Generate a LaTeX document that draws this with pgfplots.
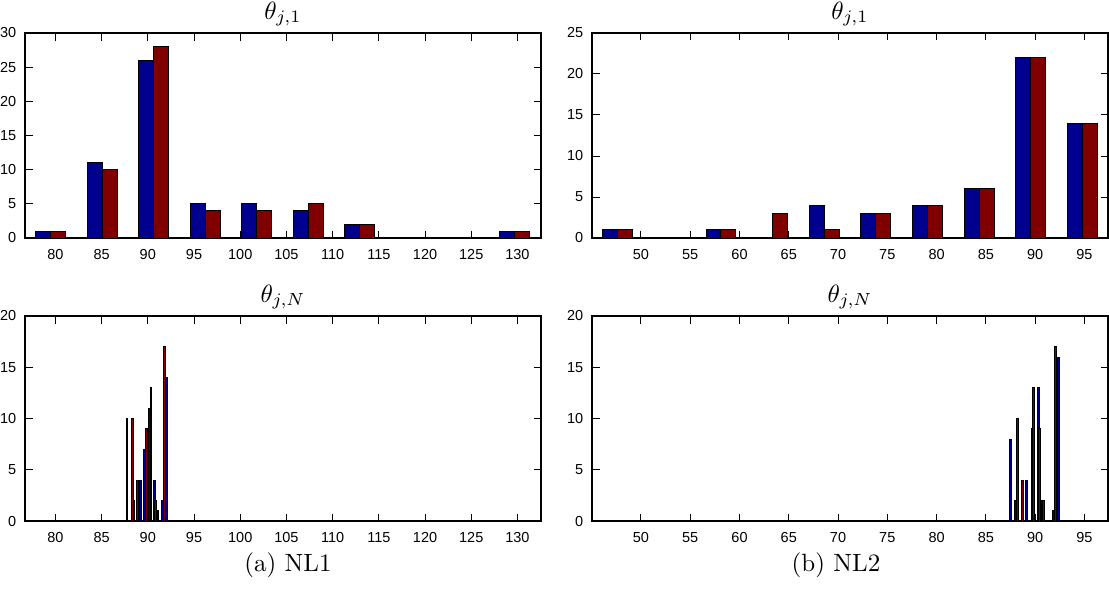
\documentclass[border=0pt]{standalone}
\usepackage{fontspec}
\newfontfamily\tickfont{Liberation Sans}
\usepackage{pgfplots}
\pgfplotsset{compat=1.18}

\definecolor{barblue}{rgb}{0,0,0.56}
\definecolor{barred}{rgb}{0.5,0,0}

\pgfplotsset{
  matfig/.style={
    scale only axis, width=206.4pt, height=82pt,
    anchor=south west,
    axis line style={line width=0.5pt},
    tick align=inside, major tick length=3pt,
    tick style={line width=0.4pt, black},
    tick label style={font=\tickfont\fontsize{5.8}{6.5}\selectfont,
      /pgf/number format/assume math mode=true},
    xticklabel style={yshift=-1pt},
    ymin=0,
    title style={at={(0.5,1)}, anchor=south, yshift=-6.8pt, font=\normalsize},
    every axis plot/.append style={ybar, bar shift=0pt, draw=black, line width=0.4pt},
  },
  leftx/.style={xmin=76.71, xmax=132.55, xtick={80,85,...,130}},
  rightx/.style={xmin=45.03, xmax=97.4, xtick={50,55,...,95}},
}

\begin{document}
\begin{tikzpicture}
\useasboundingbox (0,0) rectangle (443.6pt,236pt);

% (a) NL1, first iteration
\begin{axis}[matfig, leftx, at={(10pt,140.8pt)}, ymax=30, ytick={0,5,...,30},
  title={$\theta_{j,1}$}]
\addplot[fill=barblue, bar width=1.625] coordinates {
  (78.69,1) (84.26,11) (89.83,26) (95.40,5) (100.97,5)
  (106.54,4) (112.11,2) (117.68,0) (123.25,0) (128.82,1)};
\addplot[fill=barred, bar width=1.625] coordinates {
  (80.31,1) (85.88,10) (91.45,28) (97.02,4) (102.59,4)
  (108.16,5) (113.73,2) (119.30,0) (124.87,0) (130.44,1)};
\end{axis}

% (b) NL2, first iteration
\begin{axis}[matfig, rightx, at={(236.8pt,140.8pt)}, ymax=25, ytick={0,5,...,25},
  title={$\theta_{j,1}$}]
\addplot[fill=barblue, bar width=1.52] coordinates {
  (46.89,1) (52.13,0) (57.36,1) (62.60,0) (67.84,4)
  (73.08,3) (78.31,4) (83.55,6) (88.79,22) (94.02,14)};
\addplot[fill=barred, bar width=1.52] coordinates {
  (48.41,1) (53.65,0) (58.88,1) (64.12,3) (69.36,1)
  (74.60,3) (79.83,4) (85.07,6) (90.31,22) (95.54,14)};
\end{axis}

% (a) NL1, last iteration
\begin{axis}[matfig, leftx, at={(10pt,27.6pt)}, ymax=20, ytick={0,5,...,20},
  title={$\theta_{j,N}$}]
\addplot[fill=barblue, bar width=0.2] coordinates {
  (87.75,10) (88.50,2) (89.20,4) (89.65,7) (90.15,11)
  (90.70,4) (91.10,1) (91.60,2) (92.05,14)};
\addplot[fill=barred, bar width=0.2] coordinates {
  (88.30,10) (88.85,4) (89.85,9) (90.35,13) (90.85,2) (91.80,17)};
\end{axis}

% (b) NL2, last iteration
\begin{axis}[matfig, rightx, at={(236.8pt,27.6pt)}, ymax=20, ytick={0,5,...,20},
  title={$\theta_{j,N}$}]
\addplot[fill=barblue, bar width=0.2] coordinates {
  (87.50,8) (88.00,2) (89.10,4) (89.70,9) (90.30,13)
  (90.75,2) (91.85,1) (92.40,16)};
\addplot[fill=barred, bar width=0.2] coordinates {
  (88.20,10) (88.70,4) (89.80,13) (90.40,9) (90.90,2) (92.10,17)};
\end{axis}

\node at (115.2pt,10pt) {(a) NL1};
\node at (334.4pt,10pt) {(b) NL2};
\end{tikzpicture}
\end{document}
